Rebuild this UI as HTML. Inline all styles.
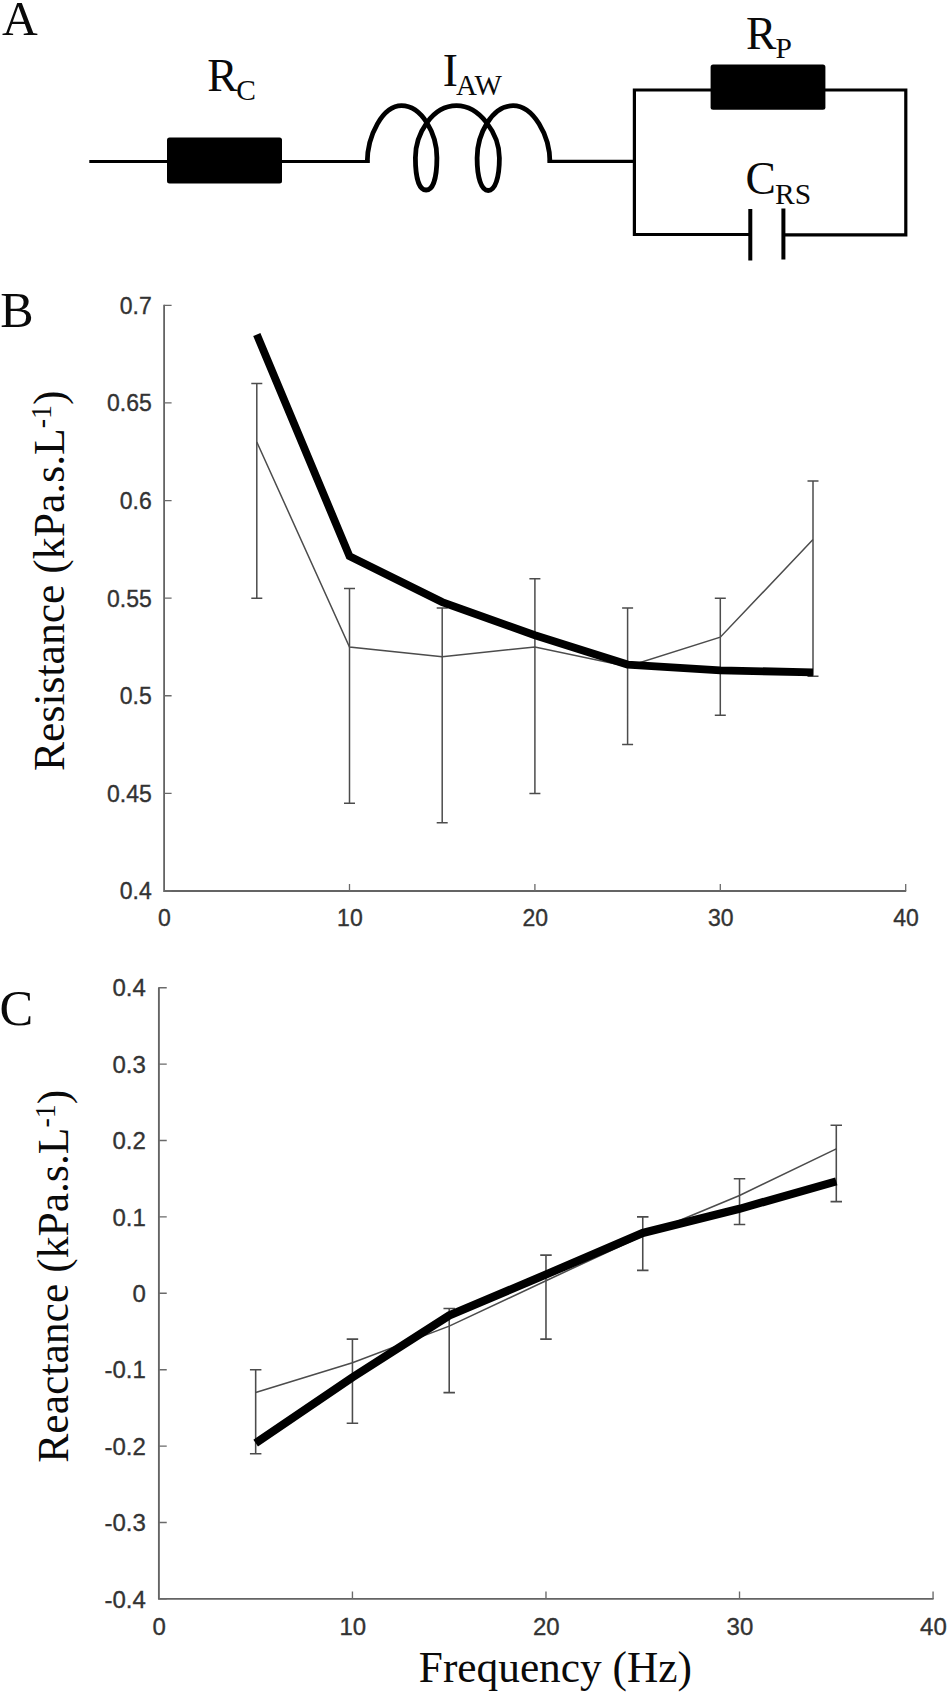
<!DOCTYPE html>
<html lang="en"><head><meta charset="utf-8"><title>Figure</title>
<style>html,body{margin:0;padding:0;background:#fff;overflow:hidden}svg{display:block}.s{font-family:"Liberation Serif",serif;fill:#0a0a0a}.t{font-family:"Liberation Sans",sans-serif;fill:#333}</style></head><body>
<svg width="947" height="1694" viewBox="0 0 947 1694">
<rect width="947" height="1694" fill="#fff"/>
<g stroke="#000" stroke-width="3.2" fill="none" stroke-linecap="butt" stroke-linejoin="miter">
<path d="M89.3 161.5H168"/>
<path d="M281 161.5H369.500"/>
<path stroke-width="4.8" stroke-linejoin="round" d="M367.2 163 C367.2 135 383 105.7 401.5 105.7 C422 105.7 436.9 134 436.9 157.7 C436.9 178 433 190 426.1 190 C419.2 190 415.4 178 415.4 157.7 C415.4 134 432 105.7 456.5 105.7 C480 105.7 499.4 134 499.4 158 C499.4 178 495 190.5 488.2 190.5 C481.4 190.5 477.1 178 477.1 158 C477.1 134 492 105.7 513.1 105.7 C533 105.7 550 135 550 163"/>
<path d="M547.700 161.300H634.400"/>
<path d="M712 90H634.400V234.500H751"/>
<path d="M824 90H905.800V234.800H783"/>
<path d="M750.300 209V260.500M783.400 208.500V259.500" stroke-width="4"/>
</g>
<rect x="167" y="137.500" width="115" height="46" rx="2.500" fill="#000"/>
<rect x="710.600" y="64.500" width="114.800" height="45.300" rx="2.500" fill="#000"/>
<text class="s" x="207.3" y="91" font-size="45.5">R<tspan font-size="29.5" dy="9.3" dx="-1.4">C</tspan></text>
<text class="s" x="442.8" y="86" font-size="45.5">I<tspan font-size="29" dy="9.3" dx="-2">AW</tspan></text>
<text class="s" x="746" y="48.9" font-size="45.5">R<tspan font-size="29.5" dy="9.3" dx="-0.9">P</tspan></text>
<text class="s" x="745.6" y="194.3" font-size="45.5">C<tspan font-size="29.5" dy="9.3" dx="-1">RS</tspan></text>
<text class="s" x="2.1" y="35.2" font-size="49.500">A</text>
<text class="s" x="0.300" y="326.600" font-size="50">B</text>
<text class="s" x="-0.500" y="1024.600" font-size="50.500">C</text>
<path fill="none" stroke="#646464" stroke-width="1.8" d="M164.1 304.81V891H906.2"/>
<path fill="none" stroke="#6a6a6a" stroke-width="1.3" d="M164.1 891h7.5M164.1 793.38h7.5M164.1 695.77h7.5M164.1 598.15h7.5M164.1 500.54h7.5M164.1 402.93h7.5M164.1 305.31h7.5M349.5 891v-7M534.9 891v-7M720.3 891v-7M905.7 891v-7"/>
<g class="t" font-size="23" stroke="#333" stroke-width="0.35">
<text text-anchor="end" x="151.8" y="899.39">0.4</text>
<text text-anchor="end" x="151.8" y="801.78">0.45</text>
<text text-anchor="end" x="151.8" y="704.16">0.5</text>
<text text-anchor="end" x="151.8" y="606.55">0.55</text>
<text text-anchor="end" x="151.8" y="508.94">0.6</text>
<text text-anchor="end" x="151.8" y="411.32">0.65</text>
<text text-anchor="end" x="151.8" y="313.71">0.7</text>
<text text-anchor="middle" x="164.5" y="926.3">0</text>
<text text-anchor="middle" x="349.9" y="926.3">10</text>
<text text-anchor="middle" x="535.3" y="926.3">20</text>
<text text-anchor="middle" x="720.7" y="926.3">30</text>
<text text-anchor="middle" x="906.1" y="926.3">40</text>
</g>
<g stroke="#4c4c4c" stroke-width="1.5" fill="none">
<path d="M256.8 383.4V598.15M251.3 383.4h11M251.3 598.15h11M349.5 588.39V803.15M344 588.39h11M344 803.15h11M442.2 607.92V822.67M436.7 607.92h11M436.7 822.67h11M534.9 578.63V793.38M529.4 578.63h11M529.4 793.38h11M627.6 607.92V744.58M622.1 607.92h11M622.1 744.58h11M720.3 598.15V715.29M714.8 598.15h11M714.8 715.29h11M813 481.02V676.25M807.5 481.02h11M807.5 676.25h11"/>
<polyline points="256.8,441.97 349.5,646.96 442.2,656.72 534.9,646.96 627.6,666.49 720.3,637.2 813,539.59"/>
</g>
<polyline fill="none" stroke="#000" stroke-width="7.8" stroke-linejoin="miter" points="256.8,334.59 349.5,556.18 442.2,602.06 534.9,635.25 627.6,664.53 720.3,670.39 813,672.34"/>
<text class="s" font-size="44.5" transform="translate(63.9 771) rotate(-90) scale(0.98 1)">Resistance (kPa.s.L<tspan font-size="28.5" dy="-12.8">-1</tspan><tspan dy="12.8">)</tspan></text>
<path fill="none" stroke="#646464" stroke-width="1.88" d="M158.9 987.2V1598.9H933.56"/>
<path fill="none" stroke="#6a6a6a" stroke-width="1.36" d="M158.9 1598.9h7.84M158.9 1522.5h7.84M158.9 1446.1h7.84M158.9 1369.7h7.84M158.9 1293.3h7.84M158.9 1216.9h7.84M158.9 1140.5h7.84M158.9 1064.1h7.84M158.9 987.7h7.84M352.44 1598.9v-7.31M545.98 1598.9v-7.31M739.52 1598.9v-7.31M933.06 1598.9v-7.31"/>
<g class="t" font-size="24" stroke="#333" stroke-width="0.35">
<text text-anchor="end" x="145.8" y="1607.66">-0.4</text>
<text text-anchor="end" x="145.8" y="1531.26">-0.3</text>
<text text-anchor="end" x="145.8" y="1454.86">-0.2</text>
<text text-anchor="end" x="145.8" y="1378.46">-0.1</text>
<text text-anchor="end" x="145.8" y="1302.06">0</text>
<text text-anchor="end" x="145.8" y="1225.66">0.1</text>
<text text-anchor="end" x="145.8" y="1149.26">0.2</text>
<text text-anchor="end" x="145.8" y="1072.86">0.3</text>
<text text-anchor="end" x="145.8" y="996.46">0.4</text>
<text text-anchor="middle" x="159.3" y="1635.2">0</text>
<text text-anchor="middle" x="352.84" y="1635.2">10</text>
<text text-anchor="middle" x="546.38" y="1635.2">20</text>
<text text-anchor="middle" x="739.92" y="1635.2">30</text>
<text text-anchor="middle" x="933.46" y="1635.2">40</text>
</g>
<g stroke="#4c4c4c" stroke-width="1.57" fill="none">
<path d="M255.67 1369.7V1453.74M249.92 1369.7h11.49M249.92 1453.74h11.49M352.44 1339.14V1423.18M346.69 1339.14h11.49M346.69 1423.18h11.49M449.21 1308.58V1392.62M443.46 1308.58h11.49M443.46 1392.62h11.49M545.98 1255.1V1339.14M540.23 1255.1h11.49M540.23 1339.14h11.49M642.75 1216.9V1270.38M637 1216.9h11.49M637 1270.38h11.49M739.52 1178.7V1224.54M733.77 1178.7h11.49M733.77 1224.54h11.49M836.29 1125.22V1201.62M830.54 1125.22h11.49M830.54 1201.62h11.49"/>
<polyline points="255.67,1392.62 352.44,1362.82 449.21,1326.15 545.98,1280.69 642.75,1235.69 739.52,1195.51 836.29,1148.9"/>
</g>
<polyline fill="none" stroke="#000" stroke-width="8.15" stroke-linejoin="miter" points="255.67,1443.04 352.44,1377.34 449.21,1315.46 545.98,1274.58 642.75,1232.94 739.52,1208.8 836.29,1181.3"/>
<text class="s" font-size="44.5" transform="translate(68.2 1462.7) rotate(-90) scale(0.9795 1)">Reactance (kPa.s.L<tspan font-size="28.5" dy="-12.8">-1</tspan><tspan dy="12.8">)</tspan></text>
<text class="s" font-size="44.5" transform="translate(418.800 1681.800) scale(0.974 1)">Frequency (Hz)</text>
</svg></body></html>
